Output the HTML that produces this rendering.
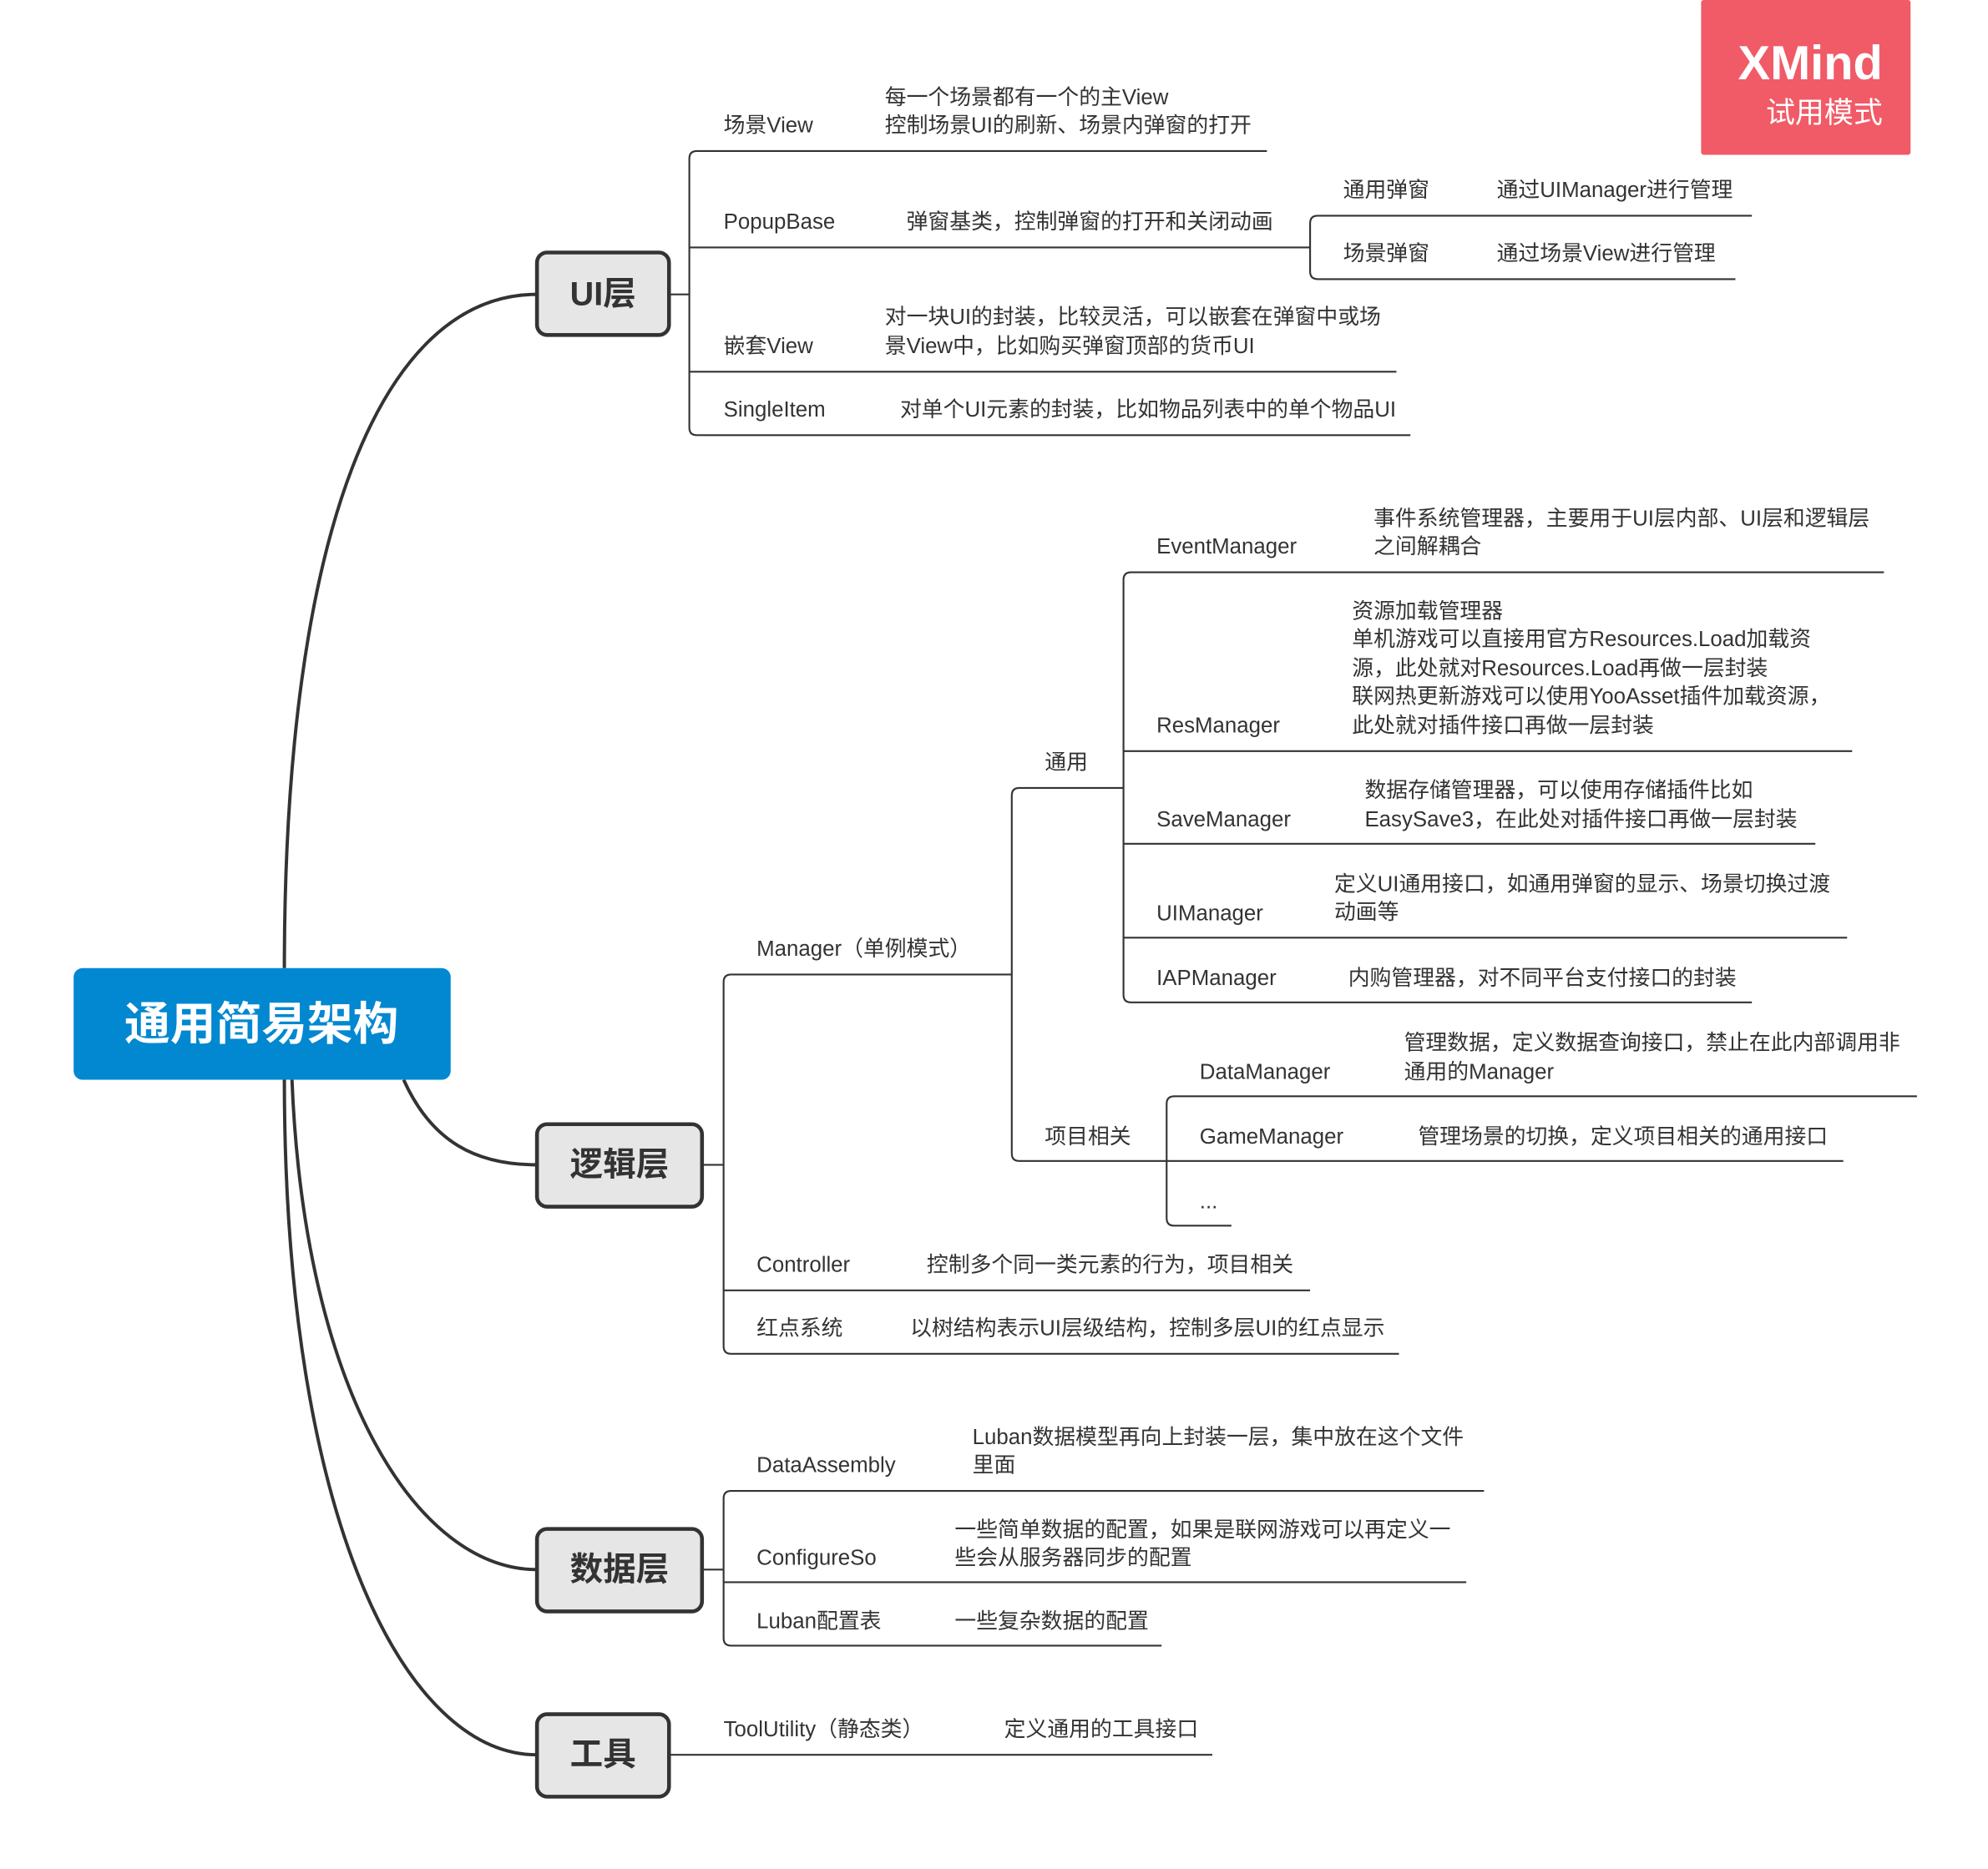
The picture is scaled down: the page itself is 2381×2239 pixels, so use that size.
<!DOCTYPE html>
<html><head><meta charset="utf-8"><style>
html,body{margin:0;padding:0;background:#fff;}
svg{display:block;}
text{font-family:"Liberation Sans","Noto Sans CJK SC",sans-serif;fill:#333;font-size:17px;dominant-baseline:central;}
.l{stroke:#333;stroke-width:1.4;fill:none;}
.m{stroke:#333;stroke-width:2.6;fill:none;}
.b{fill:#e6e6e6;stroke:#333;stroke-width:3;}
.bt{font-size:26px;font-weight:bold;text-anchor:middle;}
</style></head><body>
<svg width="2381" height="2239" viewBox="0 0 1566 1473" preserveAspectRatio="none" xmlns="http://www.w3.org/2000/svg">
<rect x="1340" y="0" width="165" height="122" rx="2" fill="#f05b67"/>
<text x="1483" y="50" style="fill:#fff;font-size:38px;font-weight:bold;text-anchor:end">XMind</text>
<text x="1483" y="89" style="fill:#fff;font-size:23px;text-anchor:end">试用模式</text>

<path class="m" d="M224,763 C224,420 300,232 423,232"/>
<path class="m" d="M318,851 C340,900 375,918 423,918"/>
<path class="m" d="M230,851 C240,1100 330,1237 423,1237"/>
<path class="m" d="M224,851 C224,1200 320,1383 423,1383"/>

<rect x="58" y="763" width="297" height="88" rx="7" fill="#0288d1"/>
<text x="206" y="807" style="fill:#fff;font-size:36px;font-weight:bold;text-anchor:middle">通用简易架构</text>

<rect class="b" x="423" y="199" width="104" height="65" rx="8"/>
<text class="bt" x="475" y="232">UI层</text>
<rect class="b" x="423" y="886" width="130" height="65" rx="8"/>
<text class="bt" x="488" y="918">逻辑层</text>
<rect class="b" x="423" y="1205" width="130" height="65" rx="8"/>
<text class="bt" x="488" y="1237">数据层</text>
<rect class="b" x="423" y="1351" width="104" height="65" rx="8"/>
<text class="bt" x="475" y="1383">工具</text>

<path class="l" d="M527,232 H543 M998,119 H549 Q543,119 543,125 V337 Q543,343 549,343 H1111 M543,195 H1032 M543,293 H1100"/>
<text x="570" y="99">场景View</text>
<text x="697" y="77">每一个场景都有一个的主View</text>
<text x="697" y="99">控制场景UI的刷新、场景内弹窗的打开</text>
<text x="570" y="175">PopupBase</text>
<text x="714" y="175">弹窗基类，控制弹窗的打开和关闭动画</text>
<path class="l" d="M1380,170 H1038 Q1032,170 1032,176 V214 Q1032,220 1038,220 H1367"/>
<text x="1058" y="150">通用弹窗</text>
<text x="1179" y="150">通过UIManager进行管理</text>
<text x="1058" y="200">场景弹窗</text>
<text x="1179" y="200">通过场景View进行管理</text>
<text x="570" y="273">嵌套View</text>
<text x="697" y="250">对一块UI的封装，比较灵活，可以嵌套在弹窗中或场</text>
<text x="697" y="273">景View中，比如购买弹窗顶部的货币UI</text>
<text x="570" y="323">SingleItem</text>
<text x="709" y="323">对单个UI元素的封装，比如物品列表中的单个物品UI</text>

<path class="l" d="M553,918 H570 M797,768 H576 Q570,768 570,774 V1061 Q570,1067 576,1067 H1102 M570,1017 H1032"/>
<text x="596" y="748">Manager（单例模式）</text>
<path class="l" d="M885,621 H803 Q797,621 797,627 V909 Q797,915 803,915 H919"/>
<text x="823" y="601">通用</text>
<path class="l" d="M1484,451 H891 Q885,451 885,457 V784 Q885,790 891,790 H1380 M885,592 H1459 M885,665 H1430 M885,739 H1455"/>
<text x="911" y="431">EventManager</text>
<text x="1082" y="409">事件系统管理器，主要用于UI层内部、UI层和逻辑层</text>
<text x="1082" y="431">之间解耦合</text>
<text x="911" y="572">ResManager</text>
<text x="1065" y="482">资源加载管理器</text>
<text x="1065" y="504">单机游戏可以直接用官方Resources.Load加载资</text>
<text x="1065" y="527">源，此处就对Resources.Load再做一层封装</text>
<text x="1065" y="549">联网热更新游戏可以使用YooAsset插件加载资源，</text>
<text x="1065" y="572">此处就对插件接口再做一层封装</text>
<text x="911" y="646">SaveManager</text>
<text x="1075" y="623">数据存储管理器，可以使用存储插件比如</text>
<text x="1075" y="646">EasySave3，在此处对插件接口再做一层封装</text>
<text x="911" y="720">UIManager</text>
<text x="1051" y="697">定义UI通用接口，如通用弹窗的显示、场景切换过渡</text>
<text x="1051" y="719">动画等</text>
<text x="911" y="771">IAPManager</text>
<text x="1062" y="771">内购管理器，对不同平台支付接口的封装</text>
<text x="823" y="896">项目相关</text>
<path class="l" d="M1510,864 H925 Q919,864 919,870 V960 Q919,966 925,966 H970 M919,915 H1452"/>
<text x="945" y="845">DataManager</text>
<text x="1106" y="822">管理数据，定义数据查询接口，禁止在此内部调用非</text>
<text x="1106" y="845">通用的Manager</text>
<text x="945" y="896">GameManager</text>
<text x="1117" y="896">管理场景的切换，定义项目相关的通用接口</text>
<text x="945" y="947">...</text>
<text x="596" y="997">Controller</text>
<text x="730" y="997">控制多个同一类元素的行为，项目相关</text>
<text x="596" y="1047">红点系统</text>
<text x="717" y="1047">以树结构表示UI层级结构，控制多层UI的红点显示</text>

<path class="l" d="M553,1237 H570 M1169,1175 H576 Q570,1175 570,1181 V1291 Q570,1297 576,1297 H915 M570,1247 H1155"/>
<text x="596" y="1155">DataAssembly</text>
<text x="766" y="1133">Luban数据模型再向上封装一层，集中放在这个文件</text>
<text x="766" y="1155">里面</text>
<text x="596" y="1228">ConfigureSo</text>
<text x="752" y="1206">一些简单数据的配置，如果是联网游戏可以再定义一</text>
<text x="752" y="1228">些会从服务器同步的配置</text>
<text x="596" y="1278">Luban配置表</text>
<text x="752" y="1278">一些复杂数据的配置</text>

<path class="l" d="M527,1383 H955"/>
<text x="570" y="1363">ToolUtility（静态类）</text>
<text x="791" y="1363">定义通用的工具接口</text>
</svg>
</body></html>
